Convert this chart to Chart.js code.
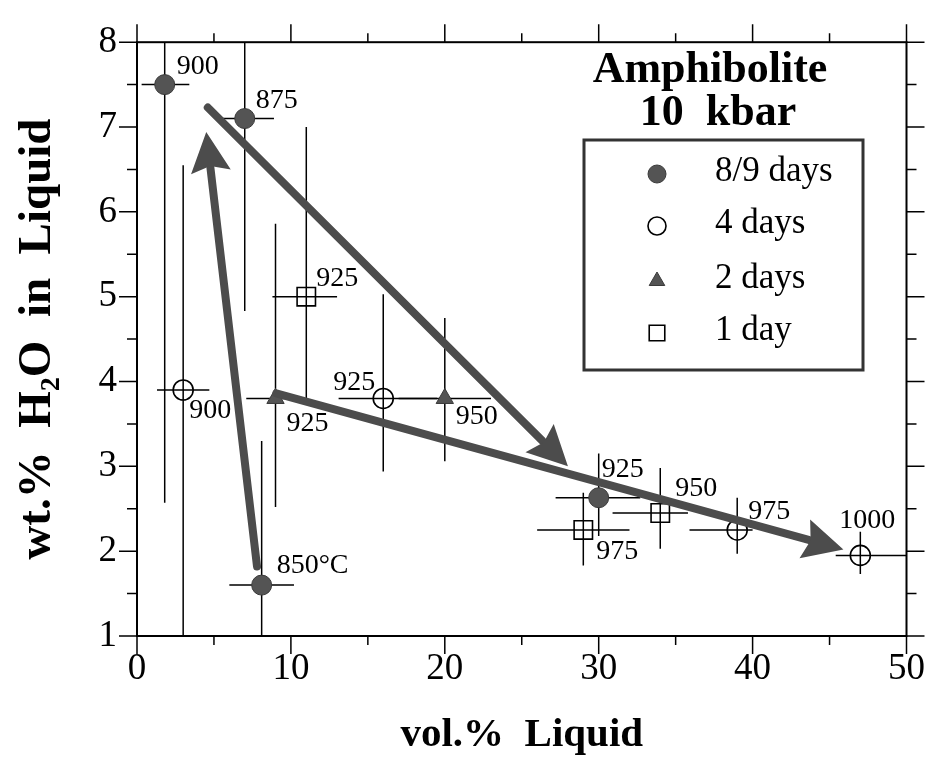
<!DOCTYPE html>
<html>
<head>
<meta charset="utf-8">
<title>Amphibolite 10 kbar</title>
<script src="https://cdn.jsdelivr.net/npm/chart.js@4.4.0/dist/chart.umd.min.js"></script>
<style>
  html, body { margin: 0; padding: 0; background: #fff; }
  #wrap { width: 936px; height: 762px; position: relative; }
</style>
</head>
<body>
<div id="wrap"><canvas id="myChart"></canvas></div>
<script>
// run durations
const seriesNames = ['8/9 days', '4 days', '2 days', '1 day'];

// 8/9 day runs
const x89 = [1.8, 7.0, 8.1, 30.0];
const y89 = [7.5, 7.1, 1.6, 2.63];
const t89 = ['900', '875', '850°C', '925'];
const xLo89 = [0.3, 5.1, 6.0, 27.2];
const xHi89 = [3.4, 8.9, 10.2, 32.7];
const yLo89 = [2.57, 4.83, 0.5, 2.18];
const yHi89 = [8.5, 8.5, 3.3, 3.15];

// 4 day runs
const x4 = [3.0, 16.0, 39.0, 47.0];
const y4 = [3.9, 3.8, 2.25, 1.95];
const t4 = ['900', '925', '975', '1000'];
const xLo4 = [1.3, 13.1, 35.9, 45.4];
const xHi4 = [4.7, 19.5, 40.0, 50.5];
const yLo4 = [0.5, 2.94, 1.97, 1.73];
const yHi4 = [6.55, 5.03, 2.63, 2.23];

// 2 day runs
const x2 = [9.0, 20.0];
const y2 = [3.8, 3.8];
const t2 = ['925', '950'];
const xLo2 = [7.1, 17.0];
const xHi2 = [10.9, 23.0];
const yLo2 = [2.52, 3.06];
const yHi2 = [5.86, 4.75];

// 1 day runs
const x1 = [11.0, 29.0, 34.0];
const y1 = [5.0, 2.25, 2.45];
const t1 = ['925', '975', '950'];
const xLo1 = [8.8, 26.0, 30.9];
const xHi1 = [13.0, 32.0, 35.8];
const yLo1 = [3.8, 1.83, 2.03];
const yHi1 = [7.0, 2.69, 2.98];

// trend arrows (tail -> head)
const arrowFromX = [7.8, 4.6, 9.05];
const arrowFromY = [1.82, 7.23, 3.86];
const arrowToX = [4.5, 28.0, 45.9];
const arrowToY = [6.94, 3.0, 2.02];

const xTicks = [0, 10, 20, 30, 40, 50];
const yTicks = [1, 2, 3, 4, 5, 6, 7, 8];

// where each temperature label sits relative to its marker: [dx, dy, align]
const labelPlacement = [
  [[12, -18, 'left'], [11, -18, 'left'], [15, -19, 'left'], [3, -28, 'left']],
  [[6, 21, 'left'], [-8, -16, 'right'], [11, -18, 'left'], [7, -35, 'center']],
  [[11, 25, 'left'], [11, 18, 'left']],
  [[10, -18, 'left'], [13, 22, 'left'], [15, -24, 'left']]
];

const serif = 'Liberation Serif, Times New Roman, serif';
const grey = '#545454';

const xs = [x89, x4, x2, x1];
const ys = [y89, y4, y2, y1];
const temps = [t89, t4, t2, t1];
const xLo = [xLo89, xLo4, xLo2, xLo1];
const xHi = [xHi89, xHi4, xHi2, xHi1];
const yLo = [yLo89, yLo4, yLo2, yLo1];
const yHi = [yHi89, yHi4, yHi2, yHi1];

const styles = [
  { pointStyle: 'circle', radius: 10, fill: grey, border: '#3a3a3a', width: 1 },
  { pointStyle: 'circle', radius: 10, fill: 'rgba(0,0,0,0)', border: '#000', width: 1.6 },
  { pointStyle: 'triangle', radius: 10, fill: grey, border: '#3a3a3a', width: 1 },
  { pointStyle: 'rect', radius: 13, fill: 'rgba(0,0,0,0)', border: '#000', width: 1.6 }
];

const datasets = seriesNames.map((name, i) => ({
  label: name,
  data: xs[i].map((x, j) => ({ x: x, y: ys[i][j] })),
  pointStyle: styles[i].pointStyle,
  pointRadius: styles[i].radius,
  pointHoverRadius: styles[i].radius,
  backgroundColor: styles[i].fill,
  borderColor: styles[i].border,
  borderWidth: styles[i].width,
  showLine: false
}));

function drawArrow(ctx, x0, y0, x1, y1) {
  const dx = x1 - x0, dy = y1 - y0;
  const len = Math.hypot(dx, dy);
  const ux = dx / len, uy = dy / len;
  const headLen = 40, headHalf = 20;
  const bx = x1 - ux * headLen, by = y1 - uy * headLen;
  ctx.save();
  ctx.strokeStyle = '#4c4c4c';
  ctx.fillStyle = '#4c4c4c';
  ctx.lineWidth = 8;
  ctx.lineCap = 'round';
  ctx.beginPath();
  ctx.moveTo(x0, y0);
  ctx.lineTo(bx + ux * 4, by + uy * 4);
  ctx.stroke();
  ctx.beginPath();
  ctx.moveTo(x1, y1);
  ctx.lineTo(bx - uy * headHalf, by + ux * headHalf);
  ctx.lineTo(bx + ux * 6, by + uy * 6);
  ctx.lineTo(bx + uy * headHalf, by - ux * headHalf);
  ctx.closePath();
  ctx.fill();
  ctx.restore();
}

const decorations = {
  id: 'decorations',
  beforeDatasetsDraw(chart) {
    // error bars, clipped to the plot frame
    const { ctx, chartArea: a, scales: { x, y } } = chart;
    ctx.save();
    ctx.beginPath();
    ctx.rect(a.left, a.top, a.right - a.left, a.bottom - a.top);
    ctx.clip();
    ctx.strokeStyle = '#000';
    ctx.lineWidth = 1.5;
    xs.forEach((row, i) => {
      row.forEach((v, j) => {
        const px = x.getPixelForValue(v), py = y.getPixelForValue(ys[i][j]);
        ctx.beginPath();
        ctx.moveTo(x.getPixelForValue(xLo[i][j]), py);
        ctx.lineTo(x.getPixelForValue(xHi[i][j]), py);
        ctx.moveTo(px, y.getPixelForValue(yLo[i][j]));
        ctx.lineTo(px, y.getPixelForValue(yHi[i][j]));
        ctx.stroke();
      });
    });
    ctx.restore();
  },
  afterDatasetsDraw(chart) {
    const { ctx, scales: { x, y } } = chart;
    arrowFromX.forEach((v, k) => {
      drawArrow(ctx,
        x.getPixelForValue(v), y.getPixelForValue(arrowFromY[k]),
        x.getPixelForValue(arrowToX[k]), y.getPixelForValue(arrowToY[k]));
    });
  },
  afterDraw(chart) {
    const { ctx, chartArea: a, scales: { x, y } } = chart;
    ctx.save();

    // frame
    ctx.strokeStyle = '#000';
    ctx.lineWidth = 2;
    ctx.strokeRect(a.left, a.top, a.right - a.left, a.bottom - a.top);

    // ticks on all four sides, pointing outward
    ctx.lineWidth = 1.5;
    ctx.beginPath();
    for (let v = 0; v <= 50; v += 5) {
      const px = x.getPixelForValue(v);
      const len = v % 10 === 0 ? 18 : 9;
      ctx.moveTo(px, a.bottom); ctx.lineTo(px, a.bottom + len);
      ctx.moveTo(px, a.top); ctx.lineTo(px, a.top - len);
    }
    for (let v = 1; v <= 8; v += 0.5) {
      const py = y.getPixelForValue(v);
      const len = Number.isInteger(v) ? 18 : 10;
      ctx.moveTo(a.left, py); ctx.lineTo(a.left - len, py);
      ctx.moveTo(a.right, py); ctx.lineTo(a.right + len, py);
    }
    ctx.stroke();

    // temperature labels
    ctx.fillStyle = '#000';
    ctx.font = '28px ' + serif;
    ctx.textBaseline = 'middle';
    temps.forEach((row, i) => {
      row.forEach((txt, j) => {
        const [dx, dy, align] = labelPlacement[i][j];
        ctx.textAlign = align;
        ctx.fillText(txt, x.getPixelForValue(xs[i][j]) + dx, y.getPixelForValue(ys[i][j]) + dy);
      });
    });

    // heading
    ctx.font = 'bold 44px ' + serif;
    ctx.textAlign = 'center';
    ctx.textBaseline = 'alphabetic';
    ctx.fillText('Amphibolite', 710, 82);
    ctx.fillText('10  kbar', 718, 125);

    // legend box
    ctx.strokeStyle = '#333';
    ctx.lineWidth = 3;
    ctx.strokeRect(584, 140, 279, 230);
    const rows = [174, 226, 281, 333];
    seriesNames.forEach((name, i) => {
      const s = styles[i];
      ctx.fillStyle = s.fill;
      ctx.strokeStyle = s.border;
      ctx.lineWidth = s.width;
      Chart.helpers.drawPoint(ctx, {
        pointStyle: s.pointStyle,
        radius: s.pointStyle === 'rect' ? 11 : 9,
        rotation: 0,
        borderWidth: s.width
      }, 657, rows[i]);
      ctx.fillStyle = '#000';
      ctx.font = '35px ' + serif;
      ctx.textAlign = 'left';
      ctx.textBaseline = 'middle';
      ctx.fillText(name, 715, rows[i] - 2);
    });
    ctx.restore();
  }
};

const ctx = document.getElementById('myChart').getContext('2d');
const myChart = new Chart(ctx, {
  type: 'scatter',
  data: { datasets: datasets },
  options: {
    responsive: true,
    maintainAspectRatio: false,
    animation: false,
    events: [],
    layout: { padding: { top: 33, right: 27, left: 0, bottom: 0 } },
    plugins: {
      legend: { display: false },
      tooltip: { enabled: false }
    },
    scales: {
      x: {
        type: 'linear',
        min: 0,
        max: 50,
        afterFit: s => { s.height = 126; },
        afterBuildTicks: s => { s.ticks = xTicks.map(v => ({ value: v })); },
        grid: { display: false, drawTicks: false },
        border: { display: false },
        ticks: {
          color: '#000',
          padding: 11,
          font: { family: serif, size: 37 }
        },
        title: {
          display: true,
          text: 'vol.%  Liquid',
          color: '#000',
          font: { family: serif, size: 41, weight: 'bold', lineHeight: 1.2 },
          padding: { top: 0, bottom: 2 }
        }
      },
      y: {
        type: 'linear',
        min: 1,
        max: 8,
        afterFit: s => { s.width = 137; },
        afterBuildTicks: s => { s.ticks = yTicks.map(v => ({ value: v })); },
        grid: { display: false, drawTicks: false },
        border: { display: false },
        ticks: {
          color: '#000',
          padding: 20,
          font: { family: serif, size: 37 }
        },
        title: {
          display: true,
          text: 'wt.%  H₂O  in  Liquid',
          color: '#000',
          font: { family: serif, size: 47, weight: 'bold', lineHeight: 1.2 },
          padding: { top: 10, bottom: 0 }
        }
      }
    }
  },
  plugins: [decorations]
});
</script>
</body>
</html>
